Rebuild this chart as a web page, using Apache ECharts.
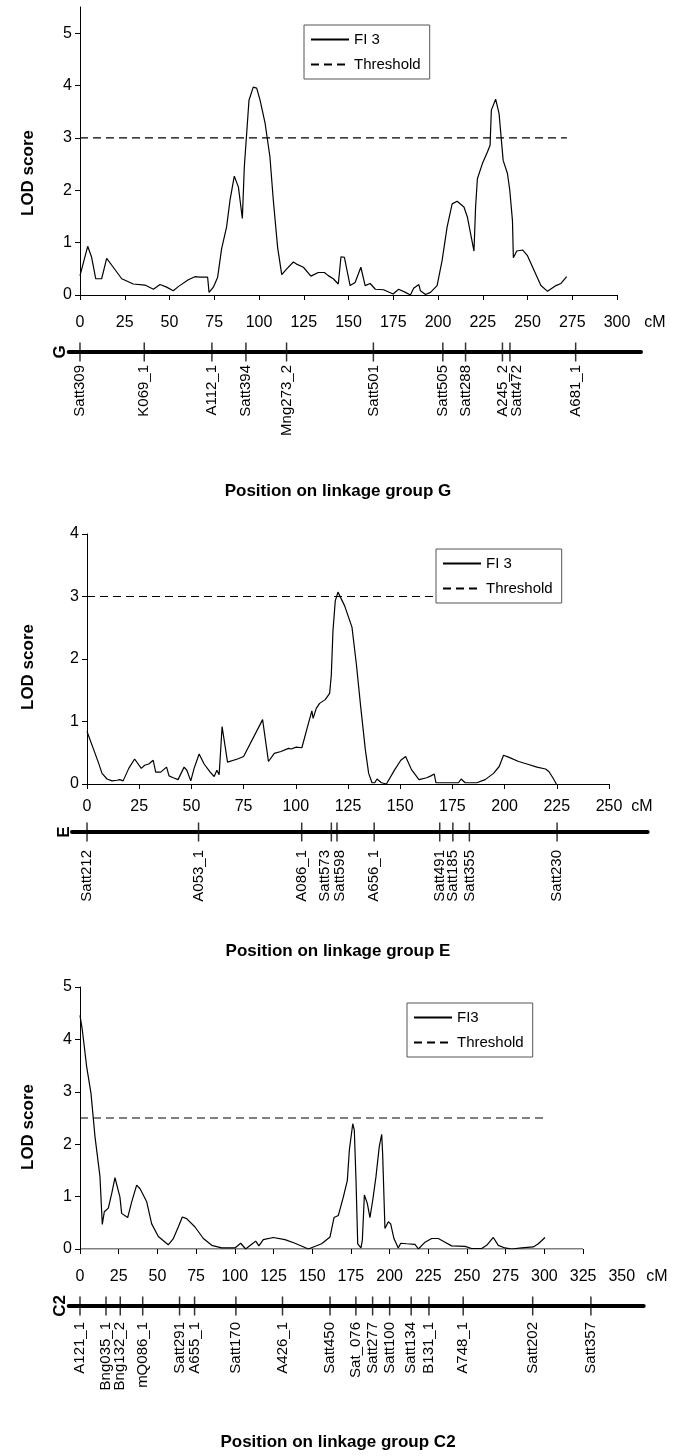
<!DOCTYPE html>
<html><head><meta charset="utf-8">
<script src="https://cdn.jsdelivr.net/npm/echarts@6/dist/echarts.min.js"></script>
<style>html,body{margin:0;padding:0;background:#fff}#c{width:677px;height:1456px}</style>
</head><body><div id="c"></div>
<script>
// ---------- Linkage group G ----------
const gPos = [0,4.3,6.5,8.8,12.1,14.9,18.6,23.3,29.8,36.3,41,44.7,48.4,52.1,54.9,60.5,64.2,67,71.3,72.1,74.5,76.9,79.1,81.9,83.8,86.2,88.5,90.7,91.8,93.1,94.4,96.8,98.7,100.6,103.4,106.1,108,110.4,112.7,115.5,119.2,121,124.8,129,133.1,136.5,138.7,141.5,144.3,145.8,147.7,150.9,153.7,156.9,159.3,162.1,165,169.6,174.9,178,181.8,184.6,186.4,189.3,190.2,193,195.8,199.5,202.3,205.1,207.9,210.7,214.5,216.4,220.1,221,222,222.9,224.8,227.6,229.1,229.8,232.2,234.1,236.4,238.8,240.1,241.6,242.1,244,247.2,250,253.7,257.5,261.2,265.9,268.7,271.9];
const gLod = [0.37,0.93,0.72,0.31,0.31,0.70,0.53,0.31,0.21,0.19,0.11,0.20,0.15,0.08,0.16,0.29,0.35,0.34,0.34,0.05,0.15,0.34,0.88,1.30,1.81,2.27,2.06,1.46,2.45,3.08,3.72,3.97,3.95,3.72,3.28,2.64,1.81,0.91,0.39,0.50,0.63,0.59,0.53,0.36,0.43,0.43,0.37,0.31,0.21,0.73,0.72,0.18,0.24,0.53,0.18,0.22,0.11,0.10,0.02,0.11,0.05,0,0.13,0.20,0.08,0.01,0.05,0.18,0.66,1.30,1.74,1.79,1.68,1.49,0.84,1.68,2.22,2.19,2.51,2.73,2.86,3.53,3.74,3.47,2.57,2.32,2.00,1.42,0.71,0.84,0.86,0.75,0.47,0.18,0.07,0.18,0.22,0.35];
const gThreshold = 3, gThresholdEnd = 272;
const gMarkers = ['Satt309','K069_1','A112_1','Satt394','Mng273_2','Satt501','Satt505','Satt288','A245_2','Satt472','A681_1'];
const gMarkerPos = [0,35.9,73.7,92.7,115.4,163.9,202.7,215.4,236,240.2,276.9];
const gLabelPos  = [0,35.9,73.7,92.7,115.4,163.9,202.7,215.4,236,244.1,276.9];

// ---------- Linkage group E ----------
const ePos = [0,3.2,5.6,7.2,9.6,12,14.4,15.7,17.3,20,22.8,26,27.6,29.6,31.7,32.9,35.3,38.1,39.3,41.3,43.6,46.5,47.8,49.7,51.3,53.7,56.1,59,60.9,62.2,63.3,64.1,64.7,67.3,72.1,75,84.1,86.9,89.7,92.9,96.5,97.8,100.2,102.9,105.4,107.7,108.3,109.8,111.4,114.1,116.2,117,117.8,118.9,120.2,121,123.4,126.9,129,131.1,133.3,134.9,136.5,137.8,138.9,141,143.4,147.4,150.3,152.6,155.4,159,159.9,162.7,164.7,166.3,167.1,177.9,179.2,181.1,186.7,190.7,194.7,197.4,199.5,201.9,206.7,210.7,215.5,219.6,221.2,223.1,224.8];
const eLod = [0.84,0.55,0.33,0.17,0.08,0.05,0.06,0.07,0.05,0.25,0.40,0.25,0.30,0.32,0.38,0.19,0.19,0.27,0.13,0.10,0.07,0.27,0.22,0.05,0.25,0.48,0.32,0.19,0.12,0.22,0.15,0.13,0.92,0.35,0.40,0.44,1.03,0.36,0.49,0.52,0.57,0.56,0.59,0.58,0.89,1.17,1.05,1.21,1.29,1.35,1.45,1.74,2.45,2.93,3.07,3.06,2.85,2.51,1.92,1.23,0.55,0.17,0.02,0.02,0.08,0.02,0,0.23,0.38,0.44,0.23,0.07,0.08,0.10,0.13,0.16,0.02,0.02,0.08,0.02,0.02,0.07,0.17,0.28,0.46,0.43,0.36,0.32,0.27,0.24,0.20,0.10,0];
const eThreshold = 3, eThresholdEnd = 225;
const eMarkers = ['Satt212','A053_1','A086_1','Satt573','Satt598','A656_1','Satt491','Satt185','Satt355','Satt230'];
const eMarkerPos = [0,53.4,102.8,117,119.7,137.5,168.9,175.2,183.1,225.1];
const eLabelPos  = [0,53.4,102.8,114,121.2,137.5,168.9,175.2,183.1,225.1];

// ---------- Linkage group C2 ----------
const cPos = [0,1.5,4.3,7.1,9.7,12.9,14.4,15.7,18.3,20.5,22.6,23.7,25.8,26.9,30.8,33.4,36.6,38.8,43.1,46.3,50.6,57,60.3,63.5,66.1,68.9,74.3,79.7,85.1,91.5,100.1,103.8,107,110.9,113.5,115.6,118.4,124.9,132.4,138.9,147.5,156.1,161.5,164.1,166.9,170.1,172.7,174,176.2,177.2,178.3,179.4,181.5,182.4,183.7,185.6,187.3,189.1,191.2,193.3,194.9,195.5,197,199.2,200.7,202.8,205.6,207.2,211,216.4,218.6,222.9,227.2,231.5,235.8,240.1,248.7,253,259.5,262.7,267,270.2,274.5,278.9,285.3,292.8,296.1,300.4];
const cLod = [4.46,4.18,3.48,2.97,2.14,1.38,0.47,0.71,0.78,1.06,1.36,1.33,0.99,0.68,0.60,0.90,1.22,1.15,0.90,0.48,0.24,0.08,0.20,0.42,0.61,0.58,0.42,0.20,0.07,0.02,0.02,0.11,0,0.09,0.15,0.06,0.18,0.22,0.18,0.11,0,0.10,0.23,0.60,0.64,0.99,1.31,1.89,2.39,2.27,1.31,0.10,0.02,0.17,1.03,0.87,0.60,0.93,1.38,1.95,2.19,1.82,0.39,0.52,0.48,0.20,0.02,0.11,0.10,0.09,0,0.13,0.20,0.20,0.13,0.06,0.05,0.01,0.01,0.07,0.22,0.07,0.02,0,0.02,0.04,0.10,0.22];
const cThreshold = 2.5, cThresholdEnd = 300;
const cMarkers = ['A121_1','Bng035_1','Bng132_2','mQ086_1','Satt291','A655_1','Satt170','A426_1','Satt450','Sat_076','Satt277','Satt100','Satt134','B131_1','A748_1','Satt202','Satt357'];
const cMarkerPos = [0,16.8,26,40.5,64.3,74,100.7,130.8,161.5,178.2,189,200,213.9,225.4,247.5,292.4,330];
const cLabelPos = cMarkerPos.slice();
const cAxisTicks = [0,25,50,75,100,125,150,175,200,225,250,275,300,325];
const cAxisLabels = [0,25,50,75,100,125,150,175,200,225,250,275,300,325,350];
const cAxisLineEnd = 325;

// ---------- chart ----------
const F = '"Liberation Sans", Arial, sans-serif';
const zip = (a, b) => a.map((v, i) => [v, b[i]]);
const BLACK = '#000';

function plotX(gi, max, interval, margin, extra) {
  return Object.assign({
    type: 'value', gridIndex: gi, min: 0, max: max, interval: interval,
    axisLine: { show: true, onZero: false, lineStyle: { color: BLACK, width: 1 } },
    axisTick: { show: true, inside: false, length: 5, lineStyle: { color: BLACK, width: 1 } },
    axisLabel: { color: BLACK, fontSize: 16, fontFamily: F, margin: margin },
    splitLine: { show: false }
  }, extra || {});
}
function plotY(gi, max) {
  return {
    type: 'value', gridIndex: gi, min: 0, max: max, interval: 1,
    axisLine: { show: true, lineStyle: { color: BLACK, width: 1 } },
    axisTick: { show: true, inside: false, length: 5, lineStyle: { color: BLACK, width: 1 } },
    axisLabel: { color: BLACK, fontSize: 16, fontFamily: F, margin: 8, showMaxLabel: Number.isInteger(max) },
    splitLine: { show: false }
  };
}
function markX(gi, min, max, names, labelPos, margin) {
  return {
    type: 'value', gridIndex: gi, min: min, max: max, position: 'bottom',
    axisLine: { show: true, onZero: false, lineStyle: { color: BLACK, width: 4 } },
    axisTick: { show: false },
    splitLine: { show: false },
    axisLabel: {
      customValues: labelPos, rotate: 90, margin: margin, color: BLACK, fontSize: 15, fontFamily: F,
      formatter: function (v) {
        const i = labelPos.findIndex(p => Math.abs(p - v) < 0.001);
        return i >= 0 ? names[i] : '';
      }
    }
  };
}
function markY(gi) { return { type: 'value', gridIndex: gi, min: 0, max: 1, show: false }; }

function curve(name, xi, pos, lod) {
  return { name: name, type: 'line', xAxisIndex: xi, yAxisIndex: xi, data: zip(pos, lod),
    symbol: 'none', showSymbol: false, lineStyle: { color: BLACK, width: 1.2 }, itemStyle: { color: BLACK },
    silent: true, z: 3 };
}
function thresh(xi, val, end) {
  return { name: 'Threshold', type: 'line', xAxisIndex: xi, yAxisIndex: xi, data: [[0, val], [end, val]],
    symbol: 'none', showSymbol: false, lineStyle: { color: BLACK, width: 1.2, type: [8, 5] }, itemStyle: { color: BLACK },
    silent: true, z: 2 };
}
function ticks(xi, pos) {
  return { type: 'scatter', xAxisIndex: xi, yAxisIndex: xi, data: pos.map(p => [p, 0]),
    symbol: 'rect', symbolSize: [1.5, 19], itemStyle: { color: BLACK }, silent: true, clip: false, z: 3 };
}
function legend(names, left, top) {
  return {
    data: names, left: left, top: top, orient: 'vertical', itemWidth: 38, itemHeight: 12, itemGap: 8,
    padding: [6, 9, 6, 6], borderColor: '#555', borderWidth: 1, backgroundColor: '#fff',
    itemStyle: { opacity: 0 },
    lineStyle: { opacity: 1, color: BLACK },
    selectedMode: false, textStyle: { color: BLACK, fontSize: 15, fontFamily: F, lineHeight: 17 }
  };
}
function txt(x, y, text, size, bold, rot) {
  return { type: 'text', x: x, y: y, rotation: rot || 0, z: 10,
    style: { text: text, fill: BLACK, font: (bold ? 'bold ' : '') + size + 'px ' + F,
      textAlign: 'center', textVerticalAlign: 'middle', align: 'center', verticalAlign: 'middle' } };
}

const option = {
  animation: false,
  backgroundColor: '#fff',
  grid: [
    { left: 80, top: 7, width: 537, height: 288 },
    { left: 68.7, top: 342, width: 572.3, height: 10 },
    { left: 87, top: 534, width: 522, height: 250 },
    { left: 72, top: 822, width: 575.7, height: 10 },
    { left: 80, top: 987, width: 541.8, height: 262 },
    { left: 68.7, top: 1296, width: 575, height: 10 }
  ],
  xAxis: [
    plotX(0, 300, 25, 20),
    markX(1, -6.3, 313.4, gMarkers, gLabelPos, 13),
    plotX(2, 250, 25, 15),
    markX(3, -7.2, 268.5, eMarkers, eLabelPos, 18),
    plotX(4, 350, 25, 20, {
      axisLine: { show: false },
      axisTick: { show: true, inside: false, length: 5, customValues: cAxisTicks, lineStyle: { color: BLACK, width: 1 } },
      axisLabel: { color: BLACK, fontSize: 16, fontFamily: F, margin: 20, customValues: cAxisLabels }
    }),
    markX(5, -7.3, 364.1, cMarkers, cLabelPos, 16)
  ],
  yAxis: [plotY(0, 5.5), markY(1), plotY(2, 4), markY(3), plotY(4, 5), markY(5)],
  legend: [
    legend(['FI 3', 'Threshold'], 304, 25),
    legend(['FI 3', 'Threshold'], 436, 549),
    legend(['FI3', 'Threshold'], 407, 1003)
  ],
  series: [
    curve('FI 3', 0, gPos, gLod),
    thresh(0, gThreshold, gThresholdEnd),
    ticks(1, gMarkerPos),
    curve('FI 3', 2, ePos, eLod),
    thresh(2, eThreshold, eThresholdEnd),
    ticks(3, eMarkerPos),
    curve('FI3', 4, cPos, cLod),
    thresh(4, cThreshold, cThresholdEnd),
    { type: 'line', xAxisIndex: 4, yAxisIndex: 4, data: [[0, 0], [cAxisLineEnd, 0]], symbol: 'none',
      lineStyle: { color: BLACK, width: 1 }, silent: true, z: 1 },
    ticks(5, cMarkerPos)
  ],
  graphic: { elements: [
    txt(28, 173, 'LOD score', 17, true, Math.PI / 2),
    txt(28, 667, 'LOD score', 17, true, Math.PI / 2),
    txt(28, 1127, 'LOD score', 17, true, Math.PI / 2),
    txt(60, 352, 'G', 17, true, Math.PI / 2),
    txt(64, 832, 'E', 17, true, Math.PI / 2),
    txt(60, 1306, 'C2', 17, true, Math.PI / 2),
    txt(655, 323, 'cM', 16, false),
    txt(642, 807, 'cM', 16, false),
    txt(657, 1277, 'cM', 16, false),
    txt(338, 491, 'Position on linkage group G', 17, true),
    txt(338, 951, 'Position on linkage group E', 17, true),
    txt(338, 1442, 'Position on linkage group C2', 17, true)
  ] }
};
const chart = echarts.init(document.getElementById('c'), null, { renderer: 'canvas' });
chart.setOption(option);
</script></body></html>
